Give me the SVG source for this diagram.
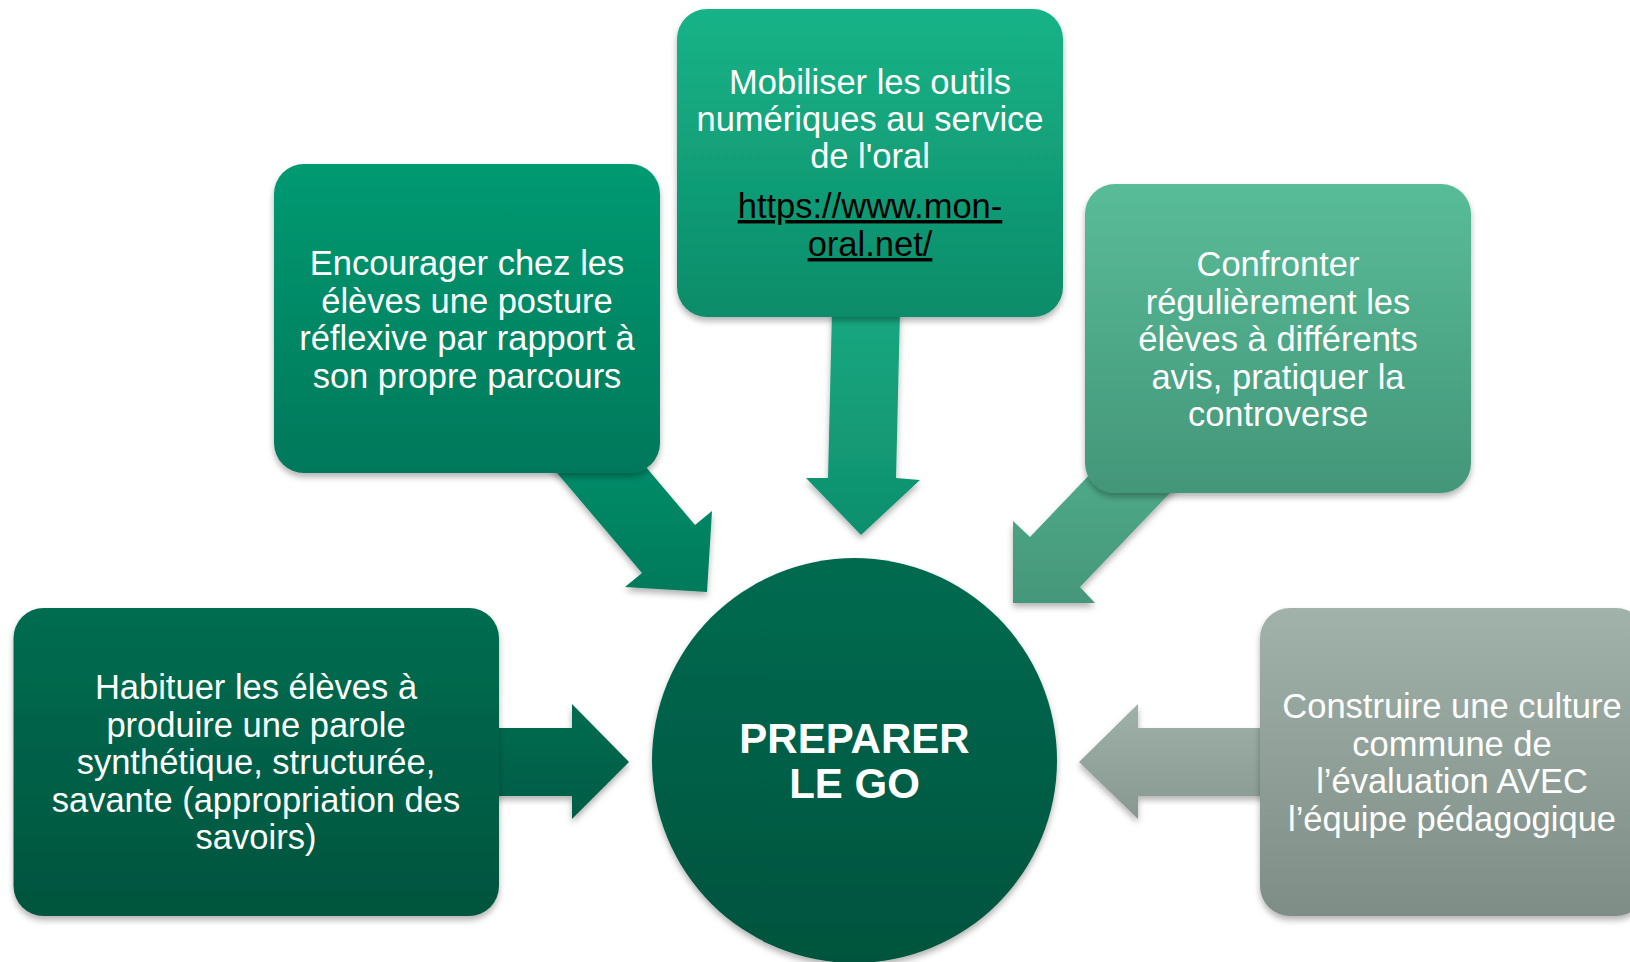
<svg xmlns="http://www.w3.org/2000/svg" width="1630" height="962" viewBox="0 0 1630 962">
<defs>
<linearGradient id="gMob" x1="0" y1="0" x2="0" y2="1"><stop offset="0" stop-color="#15B387"/><stop offset="1" stop-color="#0E8C69"/></linearGradient>
<linearGradient id="gEnc" x1="0" y1="0" x2="0" y2="1"><stop offset="0" stop-color="#009A71"/><stop offset="1" stop-color="#00785A"/></linearGradient>
<linearGradient id="gCon" x1="0" y1="0" x2="0" y2="1"><stop offset="0" stop-color="#59BC98"/><stop offset="1" stop-color="#439679"/></linearGradient>
<linearGradient id="gHab" x1="0" y1="0" x2="0" y2="1"><stop offset="0" stop-color="#006D51"/><stop offset="1" stop-color="#00543D"/></linearGradient>
<linearGradient id="gCst" x1="0" y1="0" x2="0" y2="1"><stop offset="0" stop-color="#A1B2AA"/><stop offset="1" stop-color="#7E8E86"/></linearGradient>
<linearGradient id="gCirc" x1="0" y1="0" x2="0" y2="1"><stop offset="0" stop-color="#006B50"/><stop offset="1" stop-color="#00533D"/></linearGradient>
<linearGradient id="aMob" x1="0" y1="0" x2="0" y2="1"><stop offset="0" stop-color="#17A880"/><stop offset="1" stop-color="#0F8F6D"/></linearGradient>
<linearGradient id="aEnc" x1="0" y1="0" x2="0" y2="1"><stop offset="0" stop-color="#008D69"/><stop offset="1" stop-color="#007A5A"/></linearGradient>
<linearGradient id="aCon" x1="0" y1="0" x2="0" y2="1"><stop offset="0" stop-color="#4FAA88"/><stop offset="1" stop-color="#45977A"/></linearGradient>
<linearGradient id="aHab" x1="0" y1="0" x2="0" y2="1"><stop offset="0" stop-color="#006C51"/><stop offset="1" stop-color="#005C44"/></linearGradient>
<linearGradient id="aCst" x1="0" y1="0" x2="0" y2="1"><stop offset="0" stop-color="#A0B1A9"/><stop offset="1" stop-color="#879891"/></linearGradient>
<filter id="sh" x="-10%" y="-10%" width="120%" height="125%">
<feDropShadow dx="0" dy="4" stdDeviation="3" flood-color="#000" flood-opacity="0.3"/>
</filter>
</defs>
<style>
.t{font-family:"Liberation Sans",Arial,sans-serif;font-size:34.5px;fill:#fff;text-anchor:middle}
.u{fill:#000;text-decoration:underline}
.c{font-family:"Liberation Sans",Arial,sans-serif;font-size:42px;font-weight:bold;fill:#fff;text-anchor:middle}
.box{filter:url(#sh)}
</style>
<g id="connectors">
<polygon filter="url(#sh)" fill="url(#aEnc)" points="546,460 640,460 695,525 712,511 707,592 625,587 642,573"/>
<polygon filter="url(#sh)" fill="url(#aMob)" points="832,310 900,310 896,478 920,480 861,535 806,478 828,478"/>
<polygon filter="url(#sh)" fill="url(#aCon)" points="1094,470 1192,470 1080,587 1095,603 1013,603 1013,521 1030,537"/>
<polygon filter="url(#sh)" fill="url(#aHab)" points="490,728 572,728 572,704 629,762 572,819 572,796 490,796"/>
<polygon filter="url(#sh)" fill="url(#aCst)" points="1270,728 1138,728 1138,704 1079,762 1138,819 1138,796 1270,796"/>
</g>
<g id="center">
<circle cx="854.5" cy="760.5" r="202.5" fill="url(#gCirc)" filter="url(#sh)"/>
<text class="c" x="854.5" y="753">PREPARER</text>
<text class="c" x="854.5" y="798">LE GO</text>
</g>
<g id="encourager">
<rect class="box" x="274" y="164" width="386" height="309" rx="30" fill="url(#gEnc)"/>
<text class="t" x="467" y="275">Encourager chez les</text>
<text class="t" x="467" y="312.5">élèves une posture</text>
<text class="t" x="467" y="350">réflexive par rapport à</text>
<text class="t" x="467" y="387.5">son propre parcours</text>
</g>
<g id="mobiliser">
<rect class="box" x="677" y="9" width="386" height="308" rx="30" fill="url(#gMob)"/>
<text class="t" x="870" y="93.5">Mobiliser les outils</text>
<text class="t" x="870" y="130.5">numériques au service</text>
<text class="t" x="870" y="167.5">de l'oral</text>
<text class="t u" x="870" y="218">https://www.mon-</text>
<text class="t u" x="870" y="256">oral.net/</text>
</g>
<g id="confronter">
<rect class="box" x="1085" y="184" width="386" height="309" rx="30" fill="url(#gCon)"/>
<text class="t" x="1278" y="276">Confronter</text>
<text class="t" x="1278" y="313.5">régulièrement les</text>
<text class="t" x="1278" y="351">élèves à différents</text>
<text class="t" x="1278" y="388.5">avis, pratiquer la</text>
<text class="t" x="1278" y="426">controverse</text>
</g>
<g id="habituer">
<rect class="box" x="13.5" y="608" width="485.5" height="308" rx="30" fill="url(#gHab)"/>
<text class="t" x="256" y="699">Habituer les élèves à</text>
<text class="t" x="256" y="736.5">produire une parole</text>
<text class="t" x="256" y="774">synthétique, structurée,</text>
<text class="t" x="256" y="811.5">savante (appropriation des</text>
<text class="t" x="256" y="849">savoirs)</text>
</g>
<g id="construire">
<rect class="box" x="1260" y="608" width="386" height="308" rx="30" fill="url(#gCst)"/>
<text class="t" x="1452" y="718">Construire une culture</text>
<text class="t" x="1452" y="755.5">commune de</text>
<text class="t" x="1452" y="793">l’évaluation AVEC</text>
<text class="t" x="1452" y="830.5">l’équipe pédagogique</text>
</g>
</svg>
